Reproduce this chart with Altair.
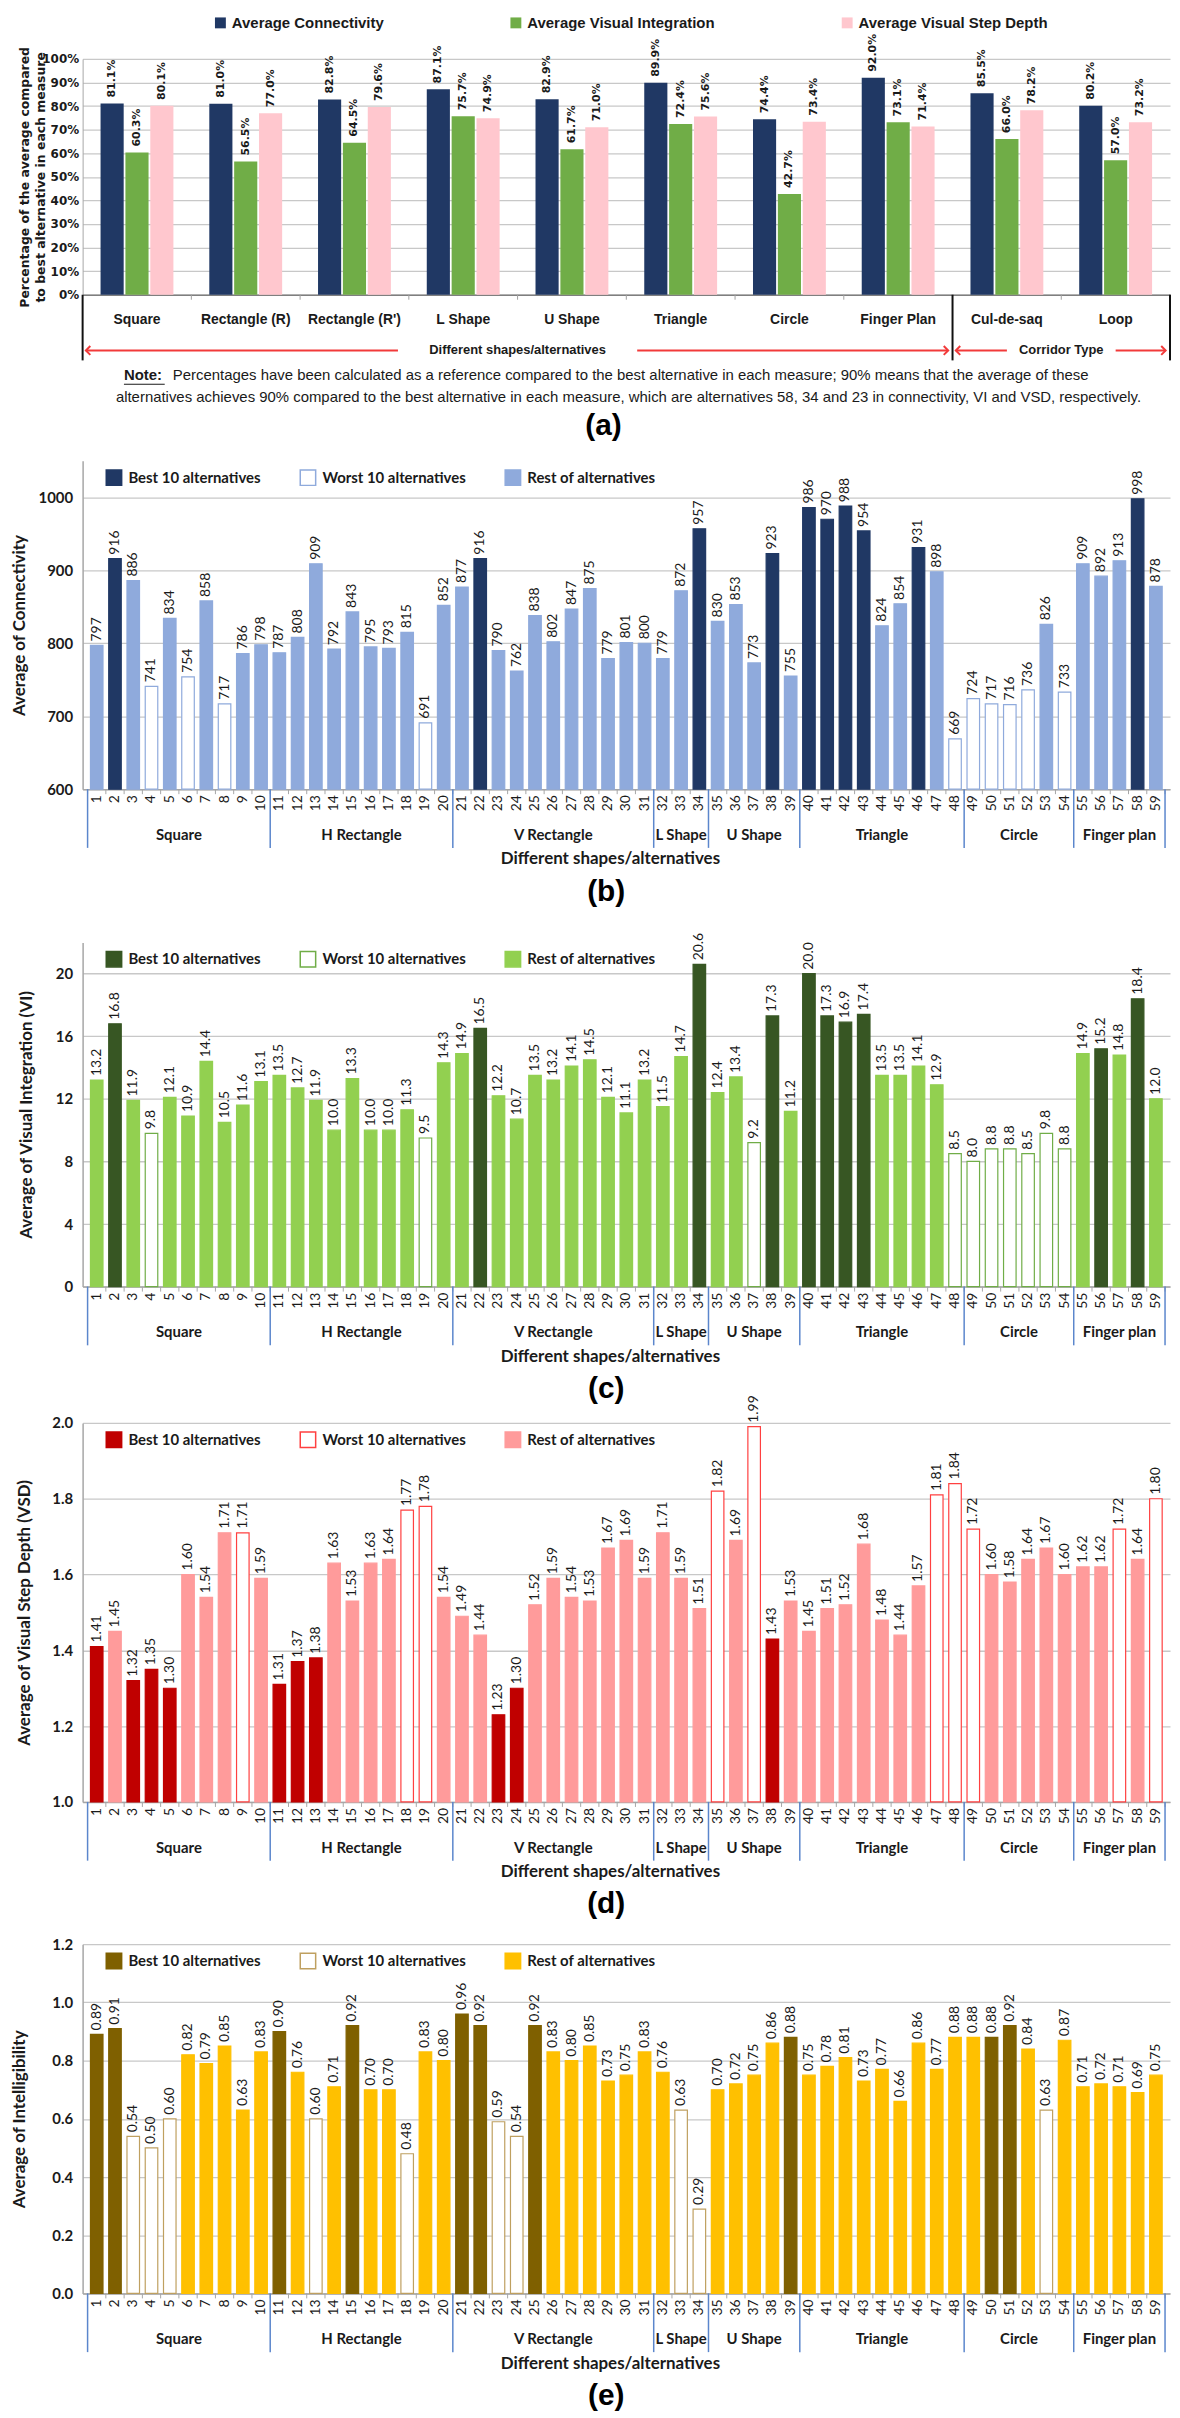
import altair as alt
import pandas as pd

FONT = "Lato"
SANS = "Liberation Sans"
VSANS = "DejaVu Sans"

W = 1093
HA, HB, HC, HD, HE = 237, 330, 346, 381, 351
GAPS = [167, 154, 137, 143]

# ---------------- (a) data ----------------
a_categories = ["Square", "Rectangle (R)", "Rectangle (R')", "L Shape", "U Shape",
                "Triangle", "Circle", "Finger Plan", "Cul-de-saq", "Loop"]
a_series = ["Average Connectivity", "Average Visual Integration", "Average Visual Step Depth"]
a_connectivity = [81.1, 81.0, 82.8, 87.1, 82.9, 89.9, 74.4, 92.0, 85.5, 80.2]
a_integration = [60.3, 56.5, 64.5, 75.7, 61.7, 72.4, 42.7, 73.1, 66.0, 57.0]
a_step_depth = [80.1, 77.0, 79.6, 74.9, 71.0, 75.6, 73.4, 71.4, 78.2, 73.2]
a_colors = ["#203864", "#70AD47", "#FFC7CE"]
a_y_ticks = [0, 10, 20, 30, 40, 50, 60, 70, 80, 90, 100]

a_sections = ["Different shapes/alternatives", "Corridor Type"]
a_section_start = [0, 8]
a_section_end = [8, 10]
a_section_gap = [1.1, 0.5]
a_separators = [0, 8, 10]
a_boundaries = [1, 2, 3, 4, 5, 6, 7, 9]

note_head = "Note:"
note_line1 = ("Percentages have been calculated as a reference compared to the best alternative "
              "in each measure; 90% means that the average of these")
note_line2 = ("alternatives achieves 90%  compared to the best alternative in each measure, which are "
              "alternatives 58, 34 and 23 in connectivity, VI and VSD, respectively.")
panel_tags = ["(a)", "(b)", "(c)", "(d)", "(e)"]

# ---------------- (b)-(e) data ----------------
alt_ids = list(range(1, 60))
groups = ["Square", "H Rectangle", "V Rectangle", "L Shape", "U Shape", "Triangle", "Circle", "Finger plan"]
group_first = [1, 11, 21, 32, 35, 40, 49, 55]
group_last = [10, 20, 31, 34, 39, 48, 54, 59]
classes = ["Best 10 alternatives", "Worst 10 alternatives", "Rest of alternatives"]

connectivity = [797, 916, 886, 741, 834, 754, 858, 717, 786, 798,
                787, 808, 909, 792, 843, 795, 793, 815, 691, 852,
                877, 916, 790, 762, 838, 802, 847, 875, 779, 801, 800,
                779, 872, 957,
                830, 853, 773, 923, 755,
                986, 970, 988, 954, 824, 854, 931, 898, 669,
                724, 717, 716, 736, 826, 733,
                909, 892, 913, 998, 878]
conn_best = [2, 22, 34, 38, 40, 41, 42, 43, 46, 58]
conn_worst = [4, 6, 8, 19, 48, 49, 50, 51, 52, 54]

integration = [13.2, 16.8, 11.9, 9.8, 12.1, 10.9, 14.4, 10.5, 11.6, 13.1,
               13.5, 12.7, 11.9, 10.0, 13.3, 10.0, 10.0, 11.3, 9.5, 14.3,
               14.9, 16.5, 12.2, 10.7, 13.5, 13.2, 14.1, 14.5, 12.1, 11.1, 13.2,
               11.5, 14.7, 20.6,
               12.4, 13.4, 9.2, 17.3, 11.2,
               20.0, 17.3, 16.9, 17.4, 13.5, 13.5, 14.1, 12.9, 8.5,
               8.0, 8.8, 8.8, 8.5, 9.8, 8.8,
               14.9, 15.2, 14.8, 18.4, 12.0]
vi_best = [2, 22, 34, 38, 40, 41, 42, 43, 56, 58]
vi_worst = [4, 19, 37, 48, 49, 50, 51, 52, 53, 54]

step_depth = [1.41, 1.45, 1.32, 1.35, 1.30, 1.60, 1.54, 1.71, 1.71, 1.59,
              1.31, 1.37, 1.38, 1.63, 1.53, 1.63, 1.64, 1.77, 1.78, 1.54,
              1.49, 1.44, 1.23, 1.30, 1.52, 1.59, 1.54, 1.53, 1.67, 1.69, 1.59,
              1.71, 1.59, 1.51,
              1.82, 1.69, 1.99, 1.43, 1.53,
              1.45, 1.51, 1.52, 1.68, 1.48, 1.44, 1.57, 1.81, 1.84,
              1.72, 1.60, 1.58, 1.64, 1.67, 1.60,
              1.62, 1.62, 1.72, 1.64, 1.80]
vsd_best = [1, 3, 4, 5, 11, 12, 13, 23, 24, 38]
vsd_worst = [9, 18, 19, 35, 37, 47, 48, 49, 57, 59]

intelligibility = [0.89, 0.91, 0.54, 0.50, 0.60, 0.82, 0.79, 0.85, 0.63, 0.83,
                   0.90, 0.76, 0.60, 0.71, 0.92, 0.70, 0.70, 0.48, 0.83, 0.80,
                   0.96, 0.92, 0.59, 0.54, 0.92, 0.83, 0.80, 0.85, 0.73, 0.75, 0.83,
                   0.76, 0.63, 0.29,
                   0.70, 0.72, 0.75, 0.86, 0.88,
                   0.75, 0.78, 0.81, 0.73, 0.77, 0.66, 0.86, 0.77, 0.88,
                   0.88, 0.88, 0.92, 0.84, 0.63, 0.87,
                   0.71, 0.72, 0.71, 0.69, 0.75]
int_best = [1, 2, 11, 15, 21, 22, 25, 39, 50, 51]
int_worst = [3, 4, 5, 13, 18, 23, 24, 33, 34, 53]

# ---------------- panel (a) ----------------
dfa = pd.DataFrame({
    "category": a_categories * 3,
    "series": [s for s in a_series for _ in a_categories],
    "value": a_connectivity + a_integration + a_step_depth,
})
dfa["label"] = [f"{v:.1f}%" for v in dfa["value"]]

xa = alt.X("category:N", sort=a_categories, title=None,
           scale=alt.Scale(paddingInner=0.33, paddingOuter=0.165),
           axis=alt.Axis(labelAngle=0, labelFont=SANS, labelFontSize=14, labelFontWeight="bold",
                         labelColor="#1a1a1a", labelPadding=18, ticks=False, domainColor="#7F7F7F",
                         domainWidth=1.5, labelLimit=200))
xoff = alt.XOffset("series:N", sort=a_series, scale=alt.Scale(paddingInner=0.07))
ya = alt.Y("value:Q", scale=alt.Scale(domain=[0, 100], nice=False),
           axis=alt.Axis(values=a_y_ticks, labelExpr="datum.value + '%'", labelFont=VSANS,
                         labelFontSize=12, labelFontWeight="bold", labelColor="#1a1a1a",
                         labelPadding=4, ticks=False, domainColor="#A6A6A6", gridColor="#C8C8C8",
                         gridWidth=1.3,
                         title=["Percentage of the average compared", "to best alternative in each measure"],
                         titleFont=VSANS, titleFontSize=12.5, titleFontWeight="bold", titleColor="#1a1a1a",
                         titleAngle=270, titleAlign="center", titleBaseline="middle",
                         titleX=-58, titleY=HA / 2, titleLineHeight=16))

a_bars = alt.Chart(dfa).mark_bar().encode(
    x=xa, xOffset=xoff, y=ya,
    color=alt.Color("series:N", sort=a_series, scale=alt.Scale(domain=a_series, range=a_colors),
                    legend=alt.Legend(title=None, orient="none", legendX=131, legendY=-44,
                                      direction="horizontal", columns=3, symbolType="square",
                                      symbolSize=120, symbolStrokeWidth=0, labelFont=SANS,
                                      labelFontSize=15, labelFontWeight="bold", labelColor="#1a1a1a",
                                      columnPadding=125, labelOffset=4, padding=0, labelLimit=400)))
a_text = alt.Chart(dfa).mark_text(angle=270, align="left", baseline="middle", dx=6, font=VSANS,
                                  fontSize=11, fontWeight="bold", color="#1a1a1a").encode(
    x=xa, xOffset=xoff, y=ya, text="label:N")

UX = alt.X("x:Q", scale=alt.Scale(domain=[0, 10], nice=False, zero=False), axis=None)
RED = "#F23A3A"
Y_ARROW = HA + 56
Y_NOTE1 = HA + 81
Y_NOTE2 = HA + 103

sep_df = pd.DataFrame({"x": a_separators})
a_sep = alt.Chart(sep_df).mark_rule(color="#111111", strokeWidth=2).encode(
    x=UX, y=alt.value(HA), y2=alt.value(HA + 66))
bnd_df = pd.DataFrame({"x": a_boundaries})
a_ticks = alt.Chart(bnd_df).mark_rule(color="#A0A0A0", strokeWidth=1).encode(
    x=UX, y=alt.value(HA), y2=alt.value(HA + 5))

seg_rows, head_rows, sec_rows = [], [], []
for name, s, e, g in zip(a_sections, a_section_start, a_section_end, a_section_gap):
    mid = (s + e) / 2
    seg_rows.append({"x": s + 0.03, "x2": mid - g})
    seg_rows.append({"x": mid + g, "x2": e - 0.04})
    head_rows.append({"x": s + 0.03, "dir": "left"})
    head_rows.append({"x": e - 0.04, "dir": "right"})
    sec_rows.append({"x": mid, "name": name})
a_seg = alt.Chart(pd.DataFrame(seg_rows)).mark_rule(color=RED, strokeWidth=2).encode(
    x=UX, x2="x2:Q", y=alt.value(Y_ARROW))
a_heads = alt.Chart(pd.DataFrame(head_rows)).mark_point(filled=False, size=80, strokeWidth=2,
                                                         color=RED, opacity=1).encode(
    x=UX, y=alt.value(Y_ARROW),
    shape=alt.Shape("dir:N", scale=alt.Scale(domain=["left", "right"],
                                             range=["M1,-1L0,0L1,1", "M-1,-1L0,0L-1,1"]), legend=None))
a_sec = alt.Chart(pd.DataFrame(sec_rows)).mark_text(font=SANS, fontSize=13, fontWeight="bold",
                                                    color="#1a1a1a", baseline="middle").encode(
    x=UX, y=alt.value(Y_ARROW), text="name:N")

n1 = alt.Chart(pd.DataFrame({"x": [0.38], "t": [note_head]})).mark_text(
    font=SANS, fontSize=15, fontWeight="bold", align="left", baseline="middle", color="#1a1a1a").encode(
    x=UX, y=alt.value(Y_NOTE1), text="t:N")
n_ul = alt.Chart(pd.DataFrame({"x": [0.38], "x2": [0.755]})).mark_rule(color="#1a1a1a", strokeWidth=1.2).encode(
    x=UX, x2="x2:Q", y=alt.value(Y_NOTE1 + 9))
n2 = alt.Chart(pd.DataFrame({"x": [0.83], "t": [note_line1]})).mark_text(
    font=SANS, fontSize=15, align="left", baseline="middle", color="#1a1a1a").encode(
    x=UX, y=alt.value(Y_NOTE1), text="t:N")
n3 = alt.Chart(pd.DataFrame({"x": [5.02], "t": [note_line2]})).mark_text(
    font=SANS, fontSize=15, align="center", baseline="middle", color="#1a1a1a").encode(
    x=UX, y=alt.value(Y_NOTE2), text="t:N")
a_tag = alt.Chart(pd.DataFrame({"x": [4.79], "t": [panel_tags[0]]})).mark_text(
    font=SANS, fontSize=30, fontWeight="bold", align="center", baseline="middle", color="black").encode(
    x=UX, y=alt.value(HA + 132), text="t:N")

panel_a = alt.layer(alt.layer(a_bars, a_text), a_sep, a_ticks, a_seg, a_heads, a_sec,
                    n1, n_ul, n2, n3, a_tag).resolve_scale(x="independent").properties(width=W, height=HA)


# ---------------- panels (b)-(e) ----------------
def make_panel(values, best, worst, fills, strokes, label_fmt, axis_fmt, domain, yticks,
               ytitle, ytitle_x, height, tag):
    cls = [classes[0] if a in best else (classes[1] if a in worst else classes[2]) for a in alt_ids]
    df = pd.DataFrame({"x": alt_ids, "value": values, "cls": cls,
                       "label": [format(v, label_fmt) for v in values]})
    X = alt.X("x:Q", scale=alt.Scale(domain=[0.5, 59.5], nice=False, zero=False),
              axis=alt.Axis(values=alt_ids, labels=False, ticks=False, grid=False,
                            domainColor="#A6A6A6", domainWidth=1.5,
                            title="Different shapes/alternatives", titleFont=FONT, titleFontSize=17,
                            titleFontWeight="bold", titleColor="#1a1a1a", titleX=530, titleY=70,
                            titleAlign="center", titleBaseline="middle"))
    Y = alt.Y("value:Q", scale=alt.Scale(domain=domain, nice=False, zero=False),
              axis=alt.Axis(values=yticks, format=axis_fmt, labelFont=FONT, labelFontSize=15,
                            labelFontWeight="bold", labelColor="#1a1a1a", labelPadding=10, ticks=False,
                            domainColor="#A6A6A6", domainWidth=1.5, gridColor="#C8C8C8", gridWidth=1.3,
                            title=ytitle, titleFont=FONT, titleFontSize=17, titleFontWeight="bold",
                            titleColor="#1a1a1a", titleAngle=270, titleAlign="center",
                            titleBaseline="middle", titleX=ytitle_x, titleY=height / 2))
    legend = alt.Legend(title=None, orient="none", legendX=23, legendY=8, direction="horizontal",
                        columns=3, symbolType="square", symbolSize=240, symbolStrokeWidth=1.5,
                        labelFont=FONT, labelFontSize=15, labelFontWeight="bold", labelColor="#1a1a1a",
                        columnPadding=35, labelOffset=6, padding=0, labelLimit=400)
    bars = alt.Chart(df).mark_bar(size=12.6, strokeWidth=1.2).encode(
        x=X, y=Y, y2=alt.datum(domain[0]),
        fill=alt.Fill("cls:N", scale=alt.Scale(domain=classes, range=fills), legend=legend),
        stroke=alt.Stroke("cls:N", scale=alt.Scale(domain=classes, range=strokes), legend=legend))
    text = alt.Chart(df).mark_text(angle=270, align="left", baseline="middle", dx=4, font=FONT,
                                   fontSize=14, color="#1a1a1a").encode(
        x="x:Q", y="value:Q", text="label:N")
    idtext = alt.Chart(df).mark_text(angle=270, align="right", baseline="middle", font=FONT,
                                     fontSize=14, color="#1a1a1a").encode(
        x="x:Q", y=alt.value(height + 6), text="x:N")
    bnd = pd.DataFrame({"x": [0.5] + [a + 0.5 for a in alt_ids]})
    ticks = alt.Chart(bnd).mark_rule(color="#A6A6A6", strokeWidth=1).encode(
        x="x:Q", y=alt.value(height), y2=alt.value(height + 5))
    gsep = pd.DataFrame({"x": [group_first[0] - 0.5] + [l + 0.5 for l in group_last]})
    seps = alt.Chart(gsep).mark_rule(color="#5B86CC", strokeWidth=1.5).encode(
        x="x:Q", y=alt.value(height), y2=alt.value(height + 59))
    glab = pd.DataFrame({"x": [(f + l) / 2 for f, l in zip(group_first, group_last)], "name": groups})
    glabels = alt.Chart(glab).mark_text(font=FONT, fontSize=15, fontWeight="bold", color="#1a1a1a",
                                        baseline="middle").encode(
        x="x:Q", y=alt.value(height + 46), text="name:N")
    tag_mark = alt.Chart(pd.DataFrame({"x": [28.9], "t": [tag]})).mark_text(
        font=SANS, fontSize=30, fontWeight="bold", align="center", baseline="middle", color="black").encode(
        x="x:Q", y=alt.value(height + 103), text="t:N")
    return alt.layer(bars, text, idtext, ticks, seps, glabels, tag_mark).properties(width=W, height=height)


panel_b = make_panel(connectivity, conn_best, conn_worst,
                     ["#203864", "#FFFFFF", "#8FAADC"], ["#203864", "#8FAADC", "#8FAADC"],
                     "d", "d", [600, 1050], [600, 650, 700, 750, 800, 850, 900, 950, 1000, 1050],
                     "Average of Connectivity", -63.5, HB, panel_tags[1])
panel_c = make_panel(integration, vi_best, vi_worst,
                     ["#375623", "#FFFFFF", "#92D050"], ["#375623", "#70AD47", "#92D050"],
                     ".1f", "d", [0, 22], [0, 2, 4, 6, 8, 10, 12, 14, 16, 18, 20, 22],
                     "Average of Visual Integration (VI)", -56, HC, panel_tags[2])
panel_d = make_panel(step_depth, vsd_best, vsd_worst,
                     ["#C00000", "#FFFFFF", "#FF9B9B"], ["#C00000", "#FF4040", "#FF9B9B"],
                     ".2f", ".1f", [1.0, 2.0], [1.0, 1.1, 1.2, 1.3, 1.4, 1.5, 1.6, 1.7, 1.8, 1.9, 2.0],
                     "Average of Visual Step Depth (VSD)", -58, HD, panel_tags[3])
panel_e = make_panel(intelligibility, int_best, int_worst,
                     ["#7F6000", "#FFFFFF", "#FFC000"], ["#7F6000", "#BFA060", "#FFC000"],
                     ".2f", ".1f", [0, 1.2], [0.0, 0.1, 0.2, 0.3, 0.4, 0.5, 0.6, 0.7, 0.8, 0.9, 1.0, 1.1, 1.2],
                     "Average of Intelligibility", -63.5, HE, panel_tags[4])


def spacer(h):
    return alt.Chart(pd.DataFrame({"s": [0]})).mark_point(opacity=0).encode(
        x=alt.value(0), y=alt.value(0)).properties(width=W, height=h)


chart = alt.vconcat(panel_a, spacer(GAPS[0]), panel_b, spacer(GAPS[1]), panel_c, spacer(GAPS[2]),
                    panel_d, spacer(GAPS[3]), panel_e, spacing=0, bounds="flush").resolve_scale(
    color="independent", fill="independent", stroke="independent", shape="independent").resolve_legend(
    color="independent", fill="independent", stroke="independent", shape="independent").properties(
    padding={"left": 2, "top": 0, "right": 0, "bottom": 0}, background="white").configure_view(
    stroke="transparent")

chart.save("out.html", embed_options={"renderer": "svg", "actions": False})
